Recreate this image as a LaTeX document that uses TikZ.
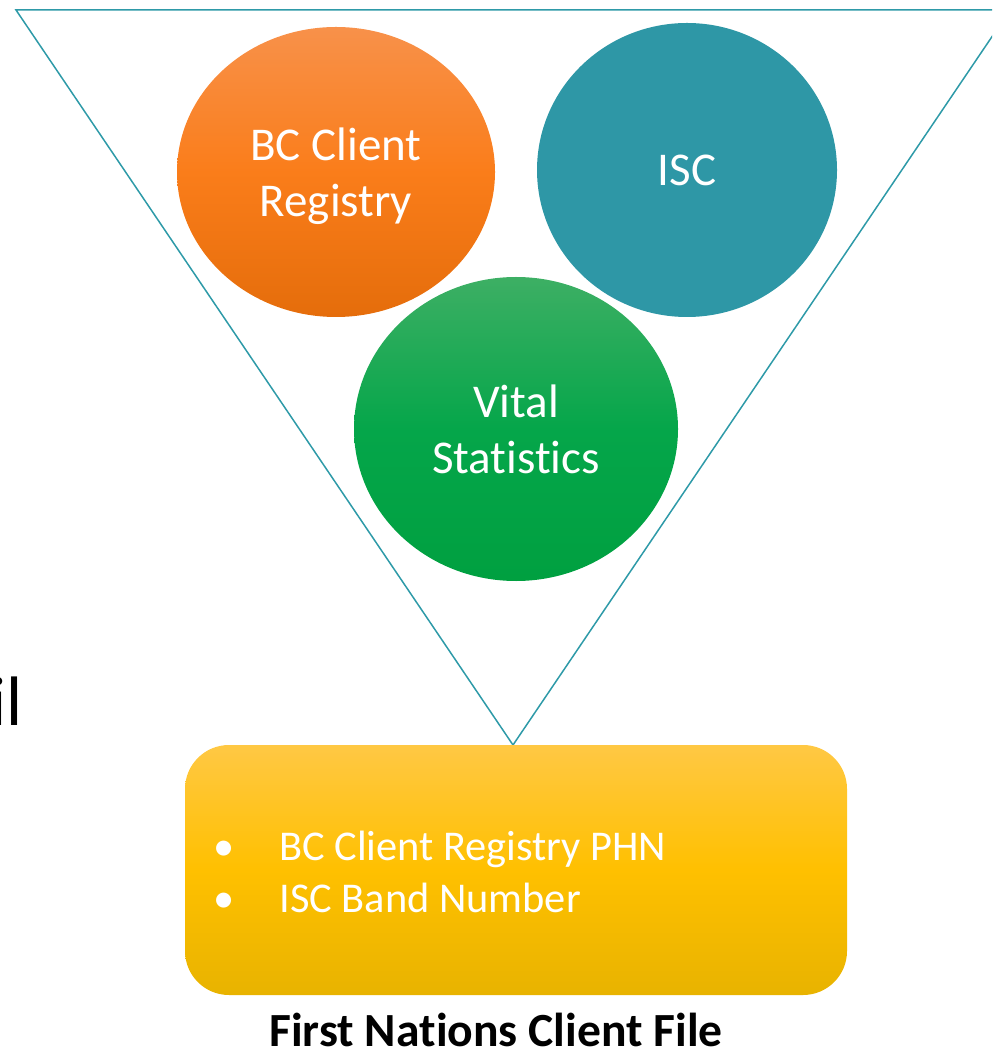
\documentclass[tikz,border=0pt]{standalone}
\usepackage{fontspec}
\setmainfont{Carlito}[Ligatures=NoCommon]
\usetikzlibrary{shapes.geometric,positioning}
\definecolor{funnel}{HTML}{2E9AA8}
\definecolor{orangetop}{HTML}{F8914A}
\definecolor{orangemid}{HTML}{FA7D1A}
\definecolor{orangebot}{HTML}{E56D0B}
\definecolor{teal}{HTML}{2E97A6}
\definecolor{greentop}{HTML}{3DAF64}
\definecolor{greenmid}{HTML}{05A64A}
\definecolor{greenbot}{HTML}{00A040}
\definecolor{goldtop}{HTML}{FFC844}
\definecolor{goldmid}{HTML}{FFC000}
\definecolor{goldbot}{HTML}{E8B300}

\begin{document}
\begin{tikzpicture}[x=0.5pt, y=-0.5pt,
	source/.style={ellipse, draw=none, inner sep=0pt, text=white, align=center,
		text depth=0pt, font=\fontsize{23.5}{28}\selectfont},
	record/.style={rectangle, rounded corners=22pt, draw=none, inner sep=0pt,
		minimum width=331pt, minimum height=125pt},
	items/.style={text=white, inner sep=0pt, font=\fontsize{21.2}{26}\selectfont},
	caption/.style={inner sep=0pt, font=\fontsize{23.8}{28}\bfseries\selectfont}]
	% page 992 x 1052 px, 1px = 0.5pt
	\useasboundingbox (0,0) rectangle (992,1052);
	\clip (0,0) rectangle (992,1052);
	
	% cut-off word at the left edge
	\node[anchor=base east, inner sep=0pt, font=\fontsize{35}{40}\selectfont] (word) at (23,725) {il};
	
	% funnel
	\coordinate (rimleft) at (16,10);
	\coordinate (rimright) at (1010,10);
	\coordinate (tip) at (513,745);
	\draw[funnel, line width=0.75pt] (rimleft) -- (rimright) -- (tip) -- cycle;
	
	% sources
	\node[source, minimum width=159pt, minimum height=145pt,
		top color=orangetop, bottom color=orangebot, middle color=orangemid] (registry) at (336,172) {BC Client\\Registry};
	\node[source, minimum width=150pt, minimum height=147pt, fill=teal] (isc) at (687,170) {ISC};
	\node[source, minimum width=162pt, minimum height=152pt,
		top color=greentop, bottom color=greenbot, middle color=greenmid] (vital) at (516,429) {Vital\\Statistics};
	
	% result
	\node[record, top color=goldtop, bottom color=goldbot, middle color=goldmid] (file) at (516,870) {};
	\node[items, anchor=west] (list) at (213,876) {%
		\begin{tabular}{@{}p{33pt}@{}l@{}}
			\textbullet & BC Client Registry PHN\\
			\textbullet & ISC Band Number
		\end{tabular}};
	\node[caption, anchor=base] (title) at (496,1046) {First Nations Client File};
\end{tikzpicture}
\end{document}
